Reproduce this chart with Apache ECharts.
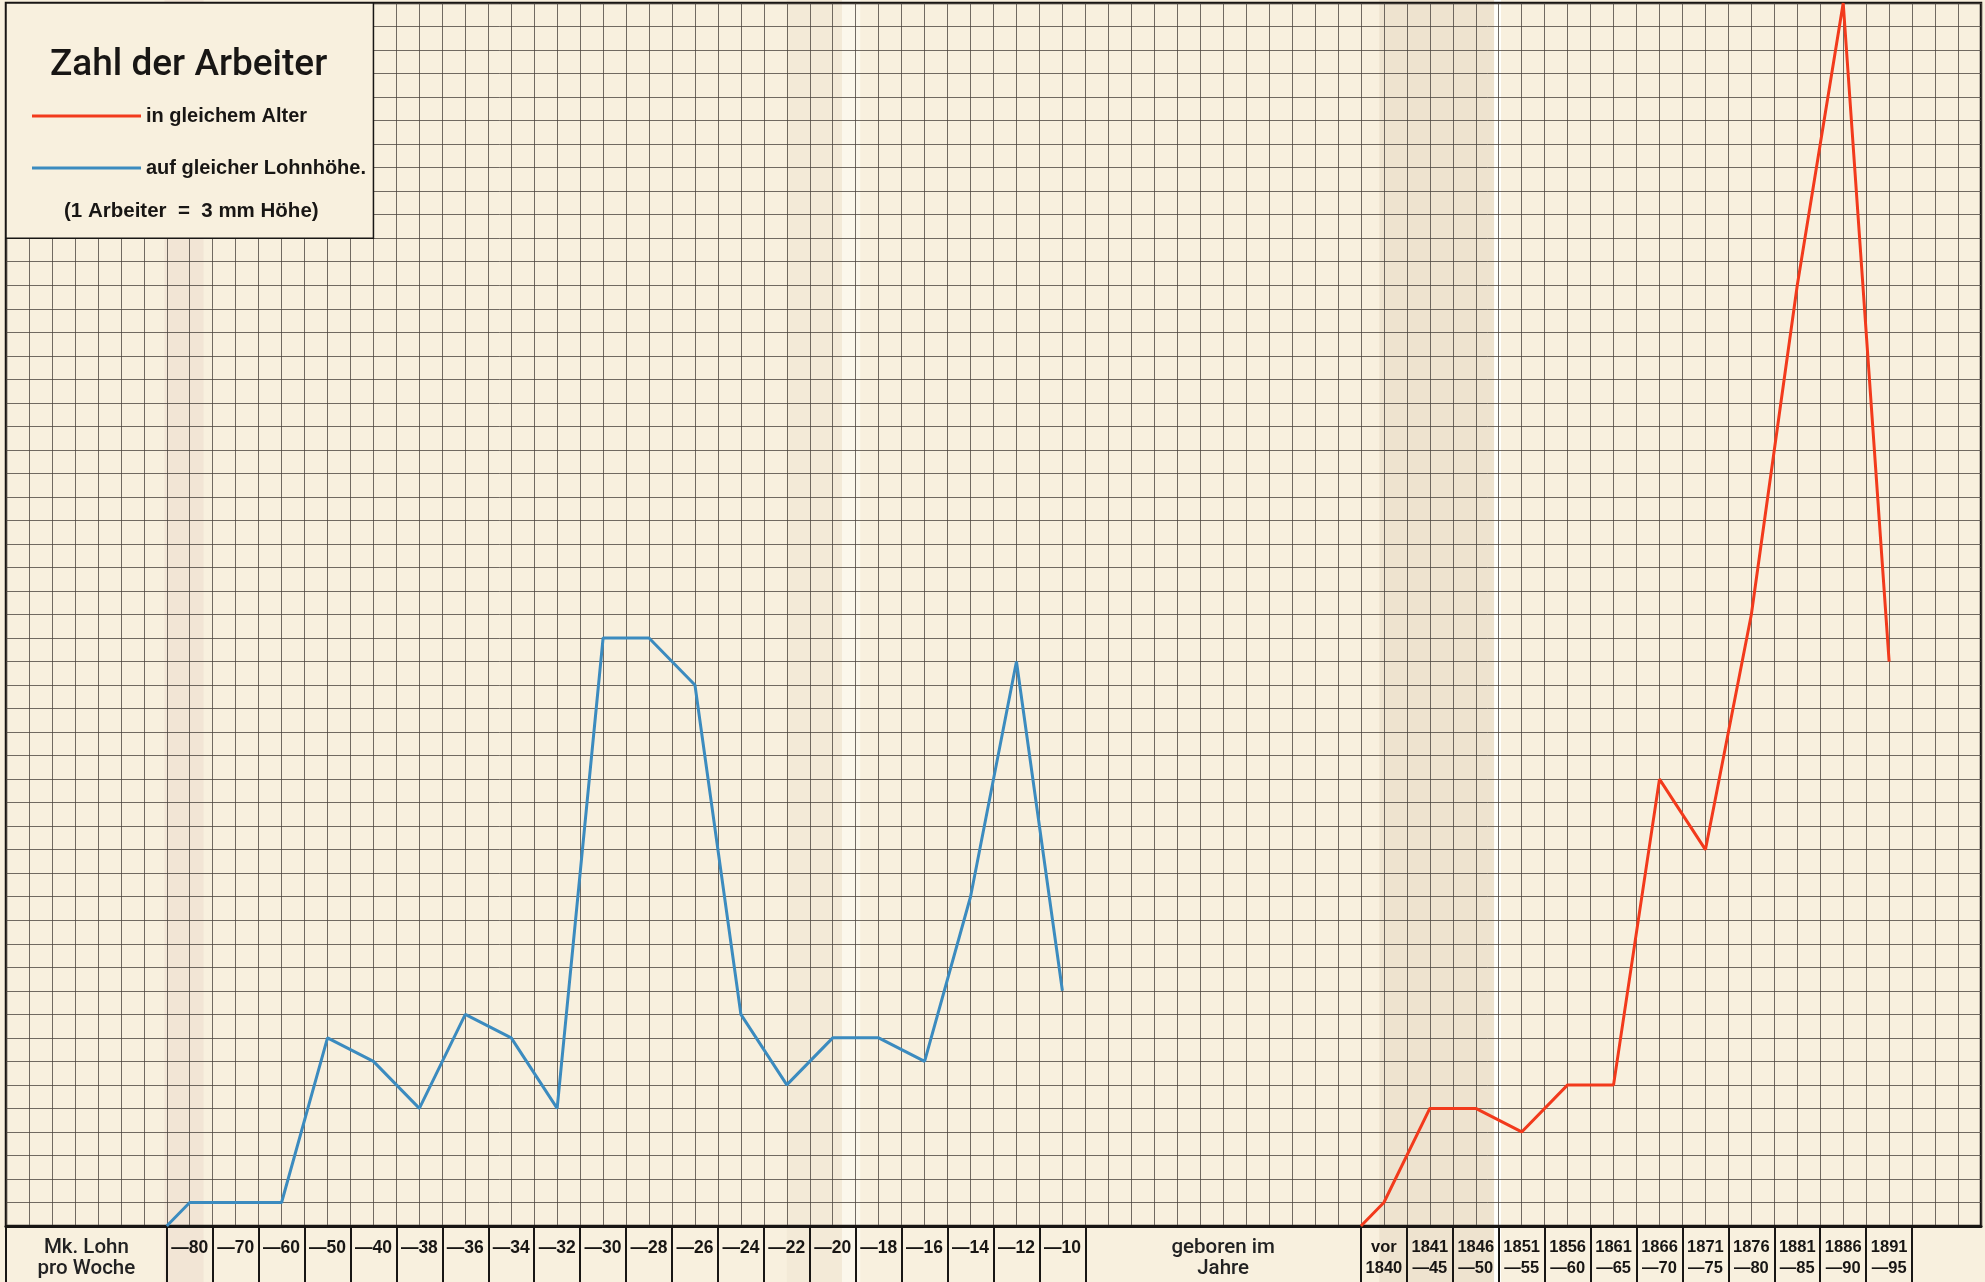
<!DOCTYPE html>
<html lang="de">
<head>
<meta charset="utf-8">
<title>Zahl der Arbeiter</title>
<script src="https://cdn.jsdelivr.net/npm/echarts@6/dist/echarts.min.js"></script>
<style>
  html, body { margin: 0; padding: 0; background: #f8f0de; }
  #chart { width: 1985px; height: 1282px; }
</style>
</head>
<body>
<div id="chart"></div>
<script>
// Wochenlohn-Stufen (Mk. Lohn pro Woche) und Zahl der Arbeiter auf gleicher Lohnhöhe
const lohnStufen = ['—80', '—70', '—60', '—50', '—40', '—38', '—36', '—34', '—32', '—30',
                    '—28', '—26', '—24', '—22', '—20', '—18', '—16', '—14', '—12', '—10'];
const arbeiterNachLohn = [1, 1, 1, 8, 7, 5, 9, 8, 5, 25, 25, 23, 9, 6, 8, 8, 7, 14, 24, 10];

// Geburtsjahrgänge und Zahl der Arbeiter in gleichem Alter
const geburtsJahre = [['vor', '1840'], ['1841', '—45'], ['1846', '—50'], ['1851', '—55'],
                      ['1856', '—60'], ['1861', '—65'], ['1866', '—70'], ['1871', '—75'],
                      ['1876', '—80'], ['1881', '—85'], ['1886', '—90'], ['1891', '—95']];
const arbeiterNachAlter = [1, 5, 5, 4, 6, 6, 19, 16, 26, 40, 52, 24];

// Beschriftung der Kopfspalten
const kopfLohn = ['Mk. Lohn', 'pro Woche'];
const kopfJahr = ['geboren im', 'Jahre'];

// Papierraster in Kästchen: jede Spalte der Beschriftung ist zwei Kästchen breit
const SPALTEN = 86, ZEILEN = 52, FELD = 2;
const LOHN_BEGINN = 7;
const LOHN_ENDE = LOHN_BEGINN + FELD * lohnStufen.length;
const JAHR_BEGINN = 59;
const KASTEN = { x0: 0, x1: 16, y0: 42, y1: 52 };

const PAPIER = '#f8f0de';
const TINTE = '#181614';
const RASTER = '#4a443e';
const BLAU = '#3b8bbf';
const ROT = '#f23a1c';
const GROTESK = "'Liberation Sans', Arial, 'Noto Sans', sans-serif";
const KOPF = "Roboto, 'Liberation Sans', sans-serif";

// Kurven: Beginn auf der Grundlinie am linken Rand der ersten Spalte, dann je Spaltenmitte ein Punkt
const mitte = (beginn, i) => beginn + FELD * i + FELD / 2;
const punkteLohn = [[LOHN_BEGINN, 0]].concat(arbeiterNachLohn.map((v, i) => [mitte(LOHN_BEGINN, i), v]));
const punkteAlter = [[JAHR_BEGINN, 0]].concat(arbeiterNachAlter.map((v, i) => [mitte(JAHR_BEGINN, i), v]));

// Trennstriche der Beschriftungszeile
const trenner = [0];
for (let i = 0; i <= lohnStufen.length; i++) trenner.push(LOHN_BEGINN + FELD * i);
for (let i = 0; i <= geburtsJahre.length; i++) trenner.push(JAHR_BEGINN + FELD * i);

// Beschriftungen je Position
const beschriftung = {};
beschriftung[LOHN_BEGINN / 2] = kopfLohn.map(t => '{txt|' + t + '}').join('\n');
lohnStufen.forEach((t, i) => { beschriftung[mitte(LOHN_BEGINN, i)] = '{lohn|' + t + '}'; });
beschriftung[(LOHN_ENDE + JAHR_BEGINN) / 2] = kopfJahr.map(t => '{txt|' + t + '}').join('\n');
geburtsJahre.forEach((t, i) => { beschriftung[mitte(JAHR_BEGINN, i)] = t.map(z => '{jahr|' + z + '}').join('\n'); });
const labelWerte = Object.keys(beschriftung).map(Number).sort((a, b) => a - b);

const chart = echarts.init(document.getElementById('chart'), null, { renderer: 'canvas' });

const option = {
  backgroundColor: PAPIER,
  animation: false,
  title: [
    {
      text: 'Zahl der Arbeiter',
      left: 45, top: 42,
      textStyle: { fontFamily: KOPF, fontWeight: 500, fontSize: 37, color: TINTE }
    },
    {
      text: '(1 Arbeiter  =  3 mm Höhe)',
      left: 59, top: 196,
      textStyle: { fontFamily: GROTESK, fontWeight: 'bold', fontSize: 20.5, color: TINTE }
    }
  ],
  legend: {
    data: ['in gleichem Alter', 'auf gleicher Lohnhöhe.'],
    orient: 'vertical',
    left: 27, top: 101,
    icon: 'rect',
    itemWidth: 109, itemHeight: 3,
    itemGap: 32,
    selectedMode: false,
    textStyle: { fontFamily: GROTESK, fontWeight: 'bold', fontSize: 20, color: TINTE }
  },
  grid: {
    left: 6, right: 4, top: 3, bottom: 56,
    show: true, borderColor: TINTE, borderWidth: 2.5, backgroundColor: 'transparent'
  },
  xAxis: [
    {
      type: 'value', min: 0, max: SPALTEN, interval: 1,
      position: 'bottom',
      axisLine: { show: true, onZero: false, lineStyle: { color: TINTE, width: 3 } },
      axisTick: { show: false },
      axisLabel: { show: false },
      splitLine: { show: true, lineStyle: { color: RASTER, width: 1, opacity: 0.78 } }
    },
    {
      type: 'value', min: 0, max: SPALTEN,
      position: 'bottom',
      axisLine: { show: false },
      splitLine: { show: false },
      axisTick: {
        show: true, inside: false, length: 60,
        customValues: trenner,
        lineStyle: { color: TINTE, width: 2 }
      },
      axisLabel: {
        show: true,
        customValues: labelWerte,
        hideOverlap: false,
        showMinLabel: true,
        showMaxLabel: true,
        margin: 11,
        verticalAlign: 'top',
        align: 'center',
        formatter: v => beschriftung[v] || '',
        rich: {
          lohn: { fontFamily: GROTESK, fontWeight: 'bold', fontSize: 17.5, lineHeight: 23, color: TINTE },
          jahr: { fontFamily: GROTESK, fontWeight: 'bold', fontSize: 16.5, lineHeight: 21, color: TINTE },
          txt: { fontFamily: KOPF, fontWeight: 500, fontSize: 20.5, lineHeight: 21, color: '#222' }
        }
      }
    }
  ],
  yAxis: {
    type: 'value', min: 0, max: ZEILEN, interval: 1,
    axisLine: { show: false },
    axisTick: { show: false },
    axisLabel: { show: false },
    splitLine: { show: true, lineStyle: { color: RASTER, width: 1, opacity: 0.78 } }
  },
  series: [
    {
      name: 'auf gleicher Lohnhöhe.',
      type: 'line',
      xAxisIndex: 0,
      data: punkteLohn,
      showSymbol: false,
      color: BLAU,
      lineStyle: { color: BLAU, width: 3 },
      emphasis: { disabled: true },
      silent: true,
      z: 3,
      markArea: {
        silent: true,
        itemStyle: { color: PAPIER, borderColor: TINTE, borderWidth: 1.5 },
        data: [[{ coord: [KASTEN.x0, KASTEN.y0] }, { coord: [KASTEN.x1, KASTEN.y1] }]]
      }
    },
    {
      name: 'in gleichem Alter',
      type: 'line',
      xAxisIndex: 0,
      data: punkteAlter,
      showSymbol: false,
      color: ROT,
      lineStyle: { color: ROT, width: 3 },
      emphasis: { disabled: true },
      silent: true,
      z: 3
    }
  ]
};

chart.setOption(option);

// Falten und Tönungen des Papiers, in Kästchen gemessen
const falten = [
  { von: 6.9, bis: 8.6, farbe: 'rgba(205,170,160,0.15)' },
  { von: 34.0, bis: 36.4, farbe: 'rgba(200,175,145,0.09)' },
  { von: 36.4, bis: 37.2, farbe: 'rgba(255,255,250,0.45)' },
  { von: 59.8, bis: 64.8, farbe: 'rgba(190,165,135,0.17)' },
  { von: 64.8, bis: 65.1, farbe: 'rgba(255,255,252,0.95)' }
];
const hoehe = chart.getHeight();
chart.setOption({
  graphic: falten.map(f => {
    const a = chart.convertToPixel({ xAxisIndex: 0 }, f.von);
    const b = chart.convertToPixel({ xAxisIndex: 0 }, f.bis);
    return {
      type: 'rect', silent: true, z: -10,
      shape: { x: a, y: 0, width: b - a, height: hoehe },
      style: { fill: f.farbe }
    };
  })
});
</script>
</body>
</html>
